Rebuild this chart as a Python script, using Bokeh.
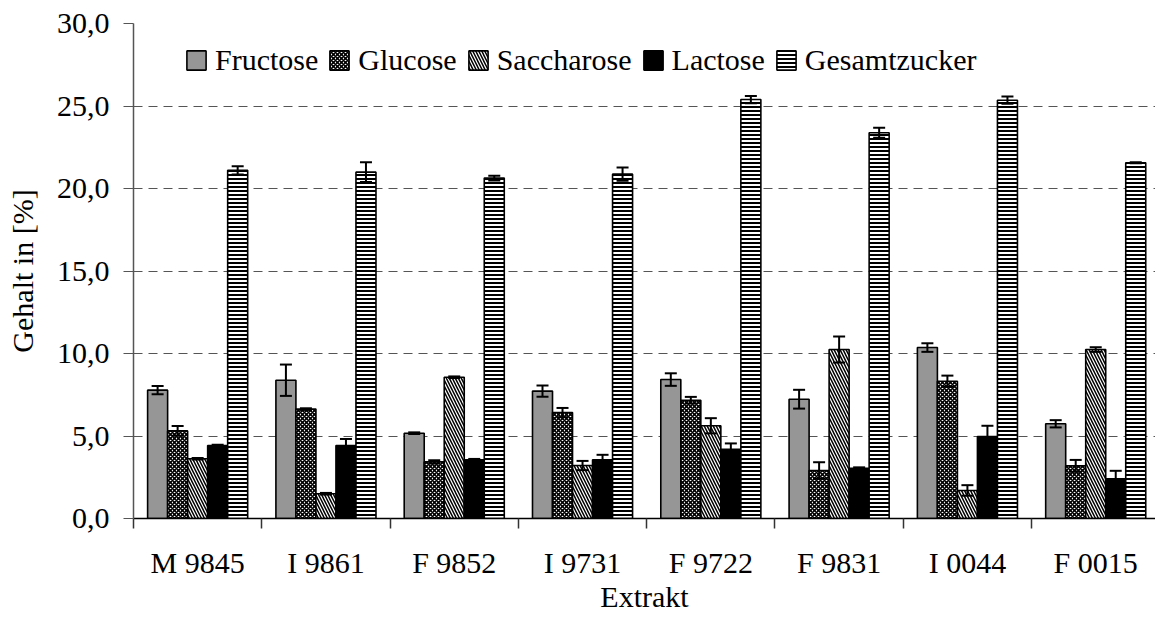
from bokeh.plotting import figure
from bokeh.models import (Range1d, FixedTicker, ColumnDataSource, Whisker, TeeHead,
                          Legend, LegendItem)
from bokeh.embed import file_html
from bokeh.resources import INLINE

categories = ["M 9845", "I 9861", "F 9852", "I 9731", "F 9722", "F 9831", "I 0044", "F 0015"]
series = ["Fructose", "Glucose", "Saccharose", "Lactose", "Gesamtzucker"]

fructose = [7.78, 8.38, 5.17, 7.72, 8.42, 7.23, 10.36, 5.74]
fructose_err = [0.25, 0.95, 0.05, 0.34, 0.38, 0.57, 0.26, 0.22]
glucose = [5.31, 6.63, 3.43, 6.42, 7.17, 2.91, 8.32, 3.19]
glucose_err = [0.30, 0.05, 0.10, 0.28, 0.20, 0.50, 0.34, 0.36]
saccharose = [3.62, 1.50, 8.56, 3.21, 5.62, 10.24, 1.70, 10.24]
saccharose_err = [0.05, 0.05, 0.05, 0.28, 0.46, 0.79, 0.32, 0.14]
lactose = [4.42, 4.42, 3.56, 3.56, 4.20, 3.05, 4.97, 2.41]
lactose_err = [0.05, 0.40, 0.05, 0.30, 0.35, 0.05, 0.65, 0.48]
gesamt = [21.10, 20.99, 20.63, 20.87, 25.39, 23.38, 25.35, 21.56]
gesamt_err = [0.25, 0.60, 0.15, 0.40, 0.22, 0.30, 0.22, 0.03]

y_ticks = [0, 5, 10, 15, 20, 25, 30]
y_tick_labels = ["0,0", "5,0", "10,0", "15,0", "20,0", "25,0", "30,0"]

values = [fructose, glucose, saccharose, lactose, gesamt]
errors = [fructose_err, glucose_err, saccharose_err, lactose_err, gesamt_err]

FONT = "Liberation Serif"
FSIZE = "30px"
BAR_W = 0.156

styles = [
    dict(fill_color="#969696"),
    dict(fill_color="white", hatch_pattern="diagonal_cross", hatch_color="black",
         hatch_scale=4, hatch_weight=1.6),
    dict(fill_color="white", hatch_pattern="left_diagonal_line", hatch_color="black",
         hatch_scale=6, hatch_weight=1.5),
    dict(fill_color="black"),
    dict(fill_color="white", hatch_pattern="horizontal_line", hatch_color="black",
         hatch_scale=4, hatch_weight=2),
]

p = figure(width=1155, height=626, output_backend="svg", toolbar_location=None,
           x_range=Range1d(0, 7.966), y_range=Range1d(0, 30),
           min_border_left=133, min_border_right=0, min_border_top=23, min_border_bottom=108)
p.outline_line_color = None
p.background_fill_color = "white"
p.border_fill_color = "white"

p.xgrid.grid_line_color = None
p.ygrid.ticker = FixedTicker(ticks=y_ticks[1:])
p.ygrid.grid_line_color = "#555555"
p.ygrid.grid_line_dash = "9 6"
p.ygrid.grid_line_width = 1.2

items = []
for j, (name, vals, errs, st) in enumerate(zip(series, values, errors, styles)):
    xs = [i + 0.5 + (j - 2) * BAR_W for i in range(len(categories))]
    src = ColumnDataSource(dict(x=xs, top=vals,
                                upper=[v + e for v, e in zip(vals, errs)],
                                lower=[v - e for v, e in zip(vals, errs)]))
    r = p.vbar(x="x", top="top", bottom=0, width=BAR_W, source=src,
               line_color="black", line_width=1.6, **st)
    w = Whisker(source=src, base="x", upper="upper", lower="lower",
                line_color="black", line_width=2, level="annotation",
                upper_head=TeeHead(size=12, line_width=2, line_color="black"),
                lower_head=TeeHead(size=12, line_width=2, line_color="black"))
    p.add_layout(w)
    items.append(LegendItem(label=name, renderers=[r]))

legend = Legend(items=items, orientation="horizontal", location=(51, 441),
                glyph_width=24, glyph_height=24, label_standoff=7, spacing=9,
                padding=0, margin=0, border_line_color=None, background_fill_alpha=0,
                label_text_font=FONT, label_text_font_size=FSIZE, label_text_color="black")
p.add_layout(legend)

# y axis
ya = p.yaxis[0]
ya.ticker = FixedTicker(ticks=y_ticks)
ya.major_label_overrides = dict(zip(y_ticks, y_tick_labels))
ya.major_tick_out = 10
ya.major_tick_in = 0
ya.axis_line_color = "#555555"
ya.major_tick_line_color = "#555555"
ya.axis_line_width = 1.5
ya.major_label_standoff = 14
ya.major_label_text_font = FONT
ya.major_label_text_font_size = FSIZE
ya.major_label_text_color = "black"
ya.axis_label = "Gehalt in [%]"
ya.axis_label_text_font = FONT
ya.axis_label_text_font_size = FSIZE
ya.axis_label_text_font_style = "normal"
ya.axis_label_text_color = "black"
ya.axis_label_standoff = 15

# x axis
xa = p.xaxis[0]
centers = [i + 0.5 for i in range(len(categories))]
xa.ticker = FixedTicker(ticks=centers, minor_ticks=list(range(len(categories) + 1)))
xa.major_label_overrides = dict(zip(centers, categories))
xa.major_tick_line_color = None
xa.minor_tick_out = 10
xa.minor_tick_in = 0
xa.minor_tick_line_color = "#333333"
xa.minor_tick_line_width = 1.5
xa.axis_line_color = "black"
xa.axis_line_width = 1.5
xa.major_label_standoff = 17
xa.major_label_text_font = FONT
xa.major_label_text_font_size = FSIZE
xa.major_label_text_color = "black"
xa.axis_label = "Extrakt"
xa.axis_label_text_font = FONT
xa.axis_label_text_font_size = FSIZE
xa.axis_label_text_font_style = "normal"
xa.axis_label_text_color = "black"
xa.axis_label_standoff = -2

open("out.html", "w").write(file_html(p, INLINE))
